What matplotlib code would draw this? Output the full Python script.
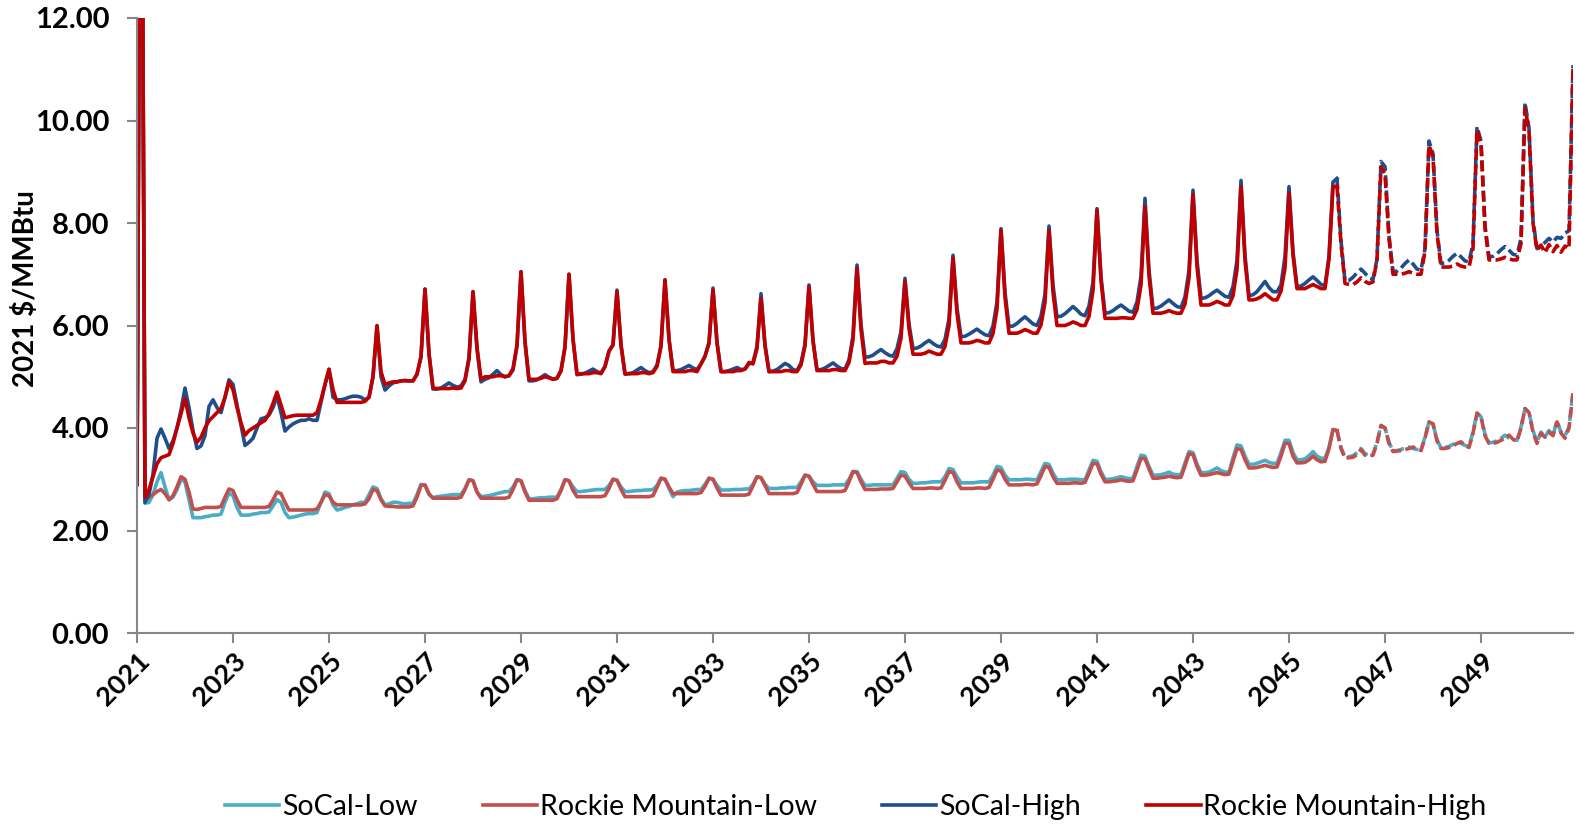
import numpy as np
import matplotlib
matplotlib.use("Agg")
import matplotlib.pyplot as plt

# monthly prices, 2021 $/MMBtu, one row per year (Jan..Dec), 2021-2050
socal_low = [
    [2.90, 20.0, 2.53, 2.55, 2.70, 2.95, 3.13, 2.85, 2.60, 2.65, 2.80, 3.00],
    [2.95, 2.60, 2.25, 2.25, 2.25, 2.27, 2.28, 2.30, 2.30, 2.32, 2.55, 2.73],
    [2.68, 2.45, 2.30, 2.30, 2.30, 2.32, 2.33, 2.35, 2.35, 2.36, 2.48, 2.60],
    [2.55, 2.35, 2.25, 2.26, 2.28, 2.30, 2.32, 2.33, 2.33, 2.35, 2.55, 2.75],
    [2.72, 2.50, 2.40, 2.42, 2.45, 2.47, 2.50, 2.52, 2.55, 2.55, 2.70, 2.85],
    [2.82, 2.62, 2.50, 2.52, 2.55, 2.55, 2.53, 2.52, 2.53, 2.53, 2.70, 2.90],
    [2.88, 2.70, 2.64, 2.66, 2.67, 2.68, 2.69, 2.70, 2.70, 2.70, 2.82, 2.99],
    [2.97, 2.75, 2.66, 2.67, 2.68, 2.70, 2.72, 2.74, 2.76, 2.76, 2.85, 2.99],
    [2.97, 2.78, 2.62, 2.62, 2.63, 2.64, 2.64, 2.65, 2.65, 2.65, 2.80, 2.99],
    [2.97, 2.85, 2.76, 2.76, 2.77, 2.78, 2.79, 2.80, 2.80, 2.80, 2.88, 3.00],
    [2.98, 2.85, 2.76, 2.76, 2.77, 2.78, 2.78, 2.79, 2.79, 2.80, 2.88, 3.02],
    [3.00, 2.82, 2.66, 2.75, 2.77, 2.78, 2.78, 2.79, 2.80, 2.80, 2.90, 3.02],
    [3.00, 2.88, 2.79, 2.79, 2.79, 2.80, 2.80, 2.80, 2.81, 2.81, 2.90, 3.05],
    [3.03, 2.90, 2.82, 2.82, 2.82, 2.83, 2.83, 2.84, 2.84, 2.84, 2.95, 3.08],
    [3.06, 2.95, 2.88, 2.88, 2.88, 2.88, 2.89, 2.89, 2.89, 2.89, 3.00, 3.15],
    [3.15, 3.00, 2.88, 2.88, 2.89, 2.89, 2.89, 2.89, 2.89, 2.89, 3.02, 3.15],
    [3.13, 3.00, 2.92, 2.92, 2.93, 2.93, 2.94, 2.95, 2.95, 2.95, 3.05, 3.21],
    [3.19, 3.05, 2.93, 2.93, 2.93, 2.93, 2.94, 2.95, 2.95, 2.95, 3.08, 3.25],
    [3.23, 3.08, 2.99, 2.99, 2.99, 2.99, 3.00, 3.00, 2.99, 2.99, 3.15, 3.31],
    [3.29, 3.12, 2.99, 2.99, 2.99, 3.00, 3.00, 3.00, 2.99, 2.99, 3.18, 3.37],
    [3.35, 3.15, 3.00, 3.00, 3.01, 3.03, 3.05, 3.03, 3.01, 3.02, 3.25, 3.47],
    [3.45, 3.25, 3.08, 3.08, 3.09, 3.11, 3.14, 3.10, 3.09, 3.09, 3.32, 3.54],
    [3.52, 3.30, 3.13, 3.13, 3.14, 3.18, 3.22, 3.17, 3.14, 3.14, 3.42, 3.67],
    [3.65, 3.45, 3.29, 3.29, 3.31, 3.34, 3.37, 3.33, 3.31, 3.31, 3.52, 3.76],
    [3.76, 3.52, 3.38, 3.38, 3.40, 3.46, 3.54, 3.45, 3.41, 3.41, 3.62, 3.97],
    [3.95, 3.62, 3.43, 3.44, 3.46, 3.52, 3.60, 3.50, 3.47, 3.49, 3.72, 4.05],
    [4.00, 3.72, 3.55, 3.56, 3.58, 3.61, 3.63, 3.60, 3.58, 3.58, 3.82, 4.12],
    [4.08, 3.77, 3.61, 3.62, 3.64, 3.68, 3.73, 3.70, 3.66, 3.64, 3.92, 4.29],
    [4.22, 3.88, 3.71, 3.72, 3.75, 3.80, 3.86, 3.80, 3.77, 3.76, 4.02, 4.38],
    [4.30, 3.95, 3.72, 3.92, 3.83, 3.95, 3.86, 4.14, 3.92, 3.85, 4.02, 4.70],
]

rockie_low = [
    [2.90, 20.0, 2.60, 2.65, 2.70, 2.76, 2.80, 2.72, 2.60, 2.68, 2.85, 3.05],
    [3.00, 2.75, 2.42, 2.41, 2.43, 2.45, 2.45, 2.45, 2.45, 2.47, 2.65, 2.81],
    [2.78, 2.60, 2.45, 2.45, 2.45, 2.45, 2.45, 2.45, 2.45, 2.47, 2.60, 2.75],
    [2.72, 2.55, 2.40, 2.40, 2.40, 2.40, 2.40, 2.40, 2.40, 2.42, 2.55, 2.70],
    [2.68, 2.55, 2.50, 2.50, 2.50, 2.50, 2.50, 2.50, 2.50, 2.52, 2.62, 2.80],
    [2.78, 2.60, 2.48, 2.47, 2.47, 2.46, 2.46, 2.46, 2.46, 2.48, 2.65, 2.88],
    [2.89, 2.72, 2.63, 2.63, 2.63, 2.63, 2.63, 2.63, 2.63, 2.65, 2.80, 2.99],
    [2.97, 2.75, 2.63, 2.63, 2.63, 2.63, 2.63, 2.63, 2.63, 2.65, 2.80, 2.99],
    [2.97, 2.75, 2.59, 2.59, 2.59, 2.59, 2.59, 2.59, 2.59, 2.62, 2.78, 2.99],
    [2.97, 2.78, 2.66, 2.66, 2.66, 2.66, 2.66, 2.66, 2.66, 2.68, 2.82, 3.00],
    [2.98, 2.80, 2.66, 2.66, 2.66, 2.66, 2.66, 2.66, 2.66, 2.68, 2.84, 3.02],
    [3.00, 2.85, 2.72, 2.72, 2.72, 2.72, 2.72, 2.72, 2.72, 2.74, 2.86, 3.02],
    [3.00, 2.83, 2.69, 2.69, 2.69, 2.69, 2.69, 2.69, 2.69, 2.71, 2.87, 3.05],
    [3.03, 2.88, 2.72, 2.72, 2.72, 2.72, 2.72, 2.72, 2.72, 2.74, 2.90, 3.08],
    [3.06, 2.90, 2.76, 2.76, 2.76, 2.76, 2.76, 2.76, 2.76, 2.78, 2.95, 3.15],
    [3.13, 2.95, 2.80, 2.80, 2.80, 2.80, 2.81, 2.81, 2.81, 2.82, 2.95, 3.08],
    [3.06, 2.93, 2.82, 2.82, 2.82, 2.82, 2.83, 2.83, 2.82, 2.83, 2.98, 3.15],
    [3.13, 2.95, 2.82, 2.82, 2.82, 2.82, 2.83, 2.83, 2.82, 2.84, 3.00, 3.18],
    [3.16, 3.00, 2.89, 2.89, 2.89, 2.89, 2.90, 2.90, 2.89, 2.91, 3.07, 3.25],
    [3.23, 3.05, 2.92, 2.92, 2.92, 2.92, 2.93, 2.93, 2.92, 2.94, 3.12, 3.31],
    [3.30, 3.10, 2.95, 2.95, 2.96, 2.97, 2.99, 2.97, 2.96, 2.97, 3.18, 3.41],
    [3.40, 3.20, 3.02, 3.02, 3.03, 3.04, 3.06, 3.04, 3.03, 3.04, 3.26, 3.50],
    [3.48, 3.25, 3.08, 3.08, 3.09, 3.11, 3.13, 3.11, 3.09, 3.10, 3.35, 3.60],
    [3.58, 3.38, 3.22, 3.22, 3.23, 3.25, 3.27, 3.25, 3.23, 3.24, 3.45, 3.70],
    [3.70, 3.45, 3.32, 3.32, 3.33, 3.38, 3.45, 3.38, 3.34, 3.35, 3.60, 3.97],
    [3.95, 3.60, 3.41, 3.42, 3.43, 3.48, 3.58, 3.47, 3.45, 3.47, 3.70, 4.05],
    [4.00, 3.70, 3.54, 3.55, 3.56, 3.58, 3.60, 3.63, 3.58, 3.56, 3.80, 4.12],
    [4.08, 3.75, 3.60, 3.60, 3.62, 3.65, 3.70, 3.73, 3.66, 3.62, 3.90, 4.29],
    [4.22, 3.85, 3.70, 3.70, 3.72, 3.76, 3.80, 3.86, 3.78, 3.74, 4.00, 4.38],
    [4.30, 3.92, 3.70, 3.90, 3.82, 3.92, 3.85, 4.12, 3.90, 3.80, 4.00, 4.68],
]

socal_high = [
    [2.90, 20.0, 2.55, 2.70, 3.10, 3.80, 3.98, 3.80, 3.60, 3.75, 4.00, 4.35],
    [4.78, 4.40, 3.95, 3.60, 3.65, 3.85, 4.42, 4.55, 4.40, 4.30, 4.60, 4.94],
    [4.85, 4.45, 4.05, 3.66, 3.72, 3.80, 4.00, 4.18, 4.20, 4.25, 4.40, 4.62],
    [4.30, 3.94, 4.02, 4.08, 4.12, 4.15, 4.15, 4.18, 4.15, 4.15, 4.50, 4.85],
    [5.14, 4.60, 4.55, 4.55, 4.57, 4.60, 4.62, 4.62, 4.60, 4.55, 4.60, 5.00],
    [5.99, 5.00, 4.74, 4.82, 4.88, 4.90, 4.92, 4.93, 4.92, 4.92, 5.05, 5.38],
    [6.71, 5.45, 4.76, 4.76, 4.78, 4.83, 4.88, 4.83, 4.80, 4.82, 4.95, 5.38],
    [6.66, 5.53, 4.90, 4.95, 4.98, 5.05, 5.12, 5.04, 5.00, 5.02, 5.13, 5.60],
    [7.05, 5.67, 4.92, 4.92, 4.94, 4.99, 5.04, 4.99, 4.95, 4.97, 5.13, 5.59],
    [7.00, 5.73, 5.04, 5.05, 5.07, 5.11, 5.15, 5.10, 5.07, 5.20, 5.50, 5.62],
    [6.69, 5.62, 5.05, 5.06, 5.08, 5.13, 5.18, 5.12, 5.08, 5.10, 5.23, 5.60],
    [6.89, 5.74, 5.12, 5.12, 5.14, 5.18, 5.22, 5.17, 5.14, 5.25, 5.40, 5.67],
    [6.73, 5.67, 5.10, 5.10, 5.12, 5.15, 5.18, 5.14, 5.15, 5.25, 5.28, 5.60],
    [6.62, 5.63, 5.10, 5.11, 5.14, 5.20, 5.26, 5.22, 5.14, 5.12, 5.27, 5.64],
    [6.79, 5.71, 5.13, 5.14, 5.17, 5.22, 5.27, 5.21, 5.16, 5.15, 5.33, 5.80],
    [7.18, 6.02, 5.38, 5.39, 5.42, 5.48, 5.53, 5.47, 5.42, 5.40, 5.55, 5.88],
    [6.92, 6.03, 5.55, 5.56, 5.60, 5.66, 5.71, 5.65, 5.60, 5.58, 5.73, 6.13],
    [7.37, 6.34, 5.78, 5.79, 5.83, 5.88, 5.93, 5.87, 5.82, 5.80, 5.99, 6.46],
    [7.89, 6.65, 5.98, 5.99, 6.04, 6.11, 6.17, 6.10, 6.03, 6.00, 6.18, 6.61],
    [7.94, 6.79, 6.17, 6.18, 6.23, 6.30, 6.37, 6.30, 6.22, 6.19, 6.38, 6.85],
    [8.28, 6.95, 6.24, 6.25, 6.29, 6.35, 6.40, 6.34, 6.28, 6.26, 6.46, 6.96],
    [8.48, 7.08, 6.33, 6.34, 6.38, 6.44, 6.50, 6.43, 6.37, 6.35, 6.56, 7.07],
    [8.64, 7.27, 6.53, 6.54, 6.58, 6.64, 6.69, 6.63, 6.57, 6.55, 6.76, 7.27],
    [8.83, 7.37, 6.58, 6.60, 6.66, 6.76, 6.86, 6.74, 6.66, 6.66, 6.79, 7.35],
    [8.71, 7.44, 6.76, 6.77, 6.82, 6.89, 6.95, 6.88, 6.80, 6.78, 7.35, 8.80],
    [8.87, 7.65, 6.87, 6.88, 6.94, 7.03, 7.10, 7.02, 6.93, 6.90, 7.30, 9.20],
    [9.10, 7.75, 7.05, 7.06, 7.12, 7.21, 7.28, 7.20, 7.10, 7.08, 7.50, 9.60],
    [9.35, 7.85, 7.21, 7.22, 7.27, 7.35, 7.41, 7.34, 7.26, 7.24, 7.60, 9.88],
    [9.60, 7.95, 7.34, 7.35, 7.40, 7.48, 7.54, 7.47, 7.39, 7.37, 7.70, 10.35],
    [9.85, 8.05, 7.50, 7.55, 7.62, 7.70, 7.63, 7.72, 7.70, 7.80, 7.85, 11.08],
]

rockie_high = [
    [2.90, 20.0, 2.65, 2.80, 3.05, 3.30, 3.42, 3.45, 3.48, 3.70, 4.00, 4.28],
    [4.58, 4.20, 3.90, 3.72, 3.82, 4.00, 4.14, 4.22, 4.30, 4.38, 4.60, 4.90],
    [4.75, 4.40, 4.10, 3.86, 3.95, 4.00, 4.05, 4.10, 4.15, 4.28, 4.48, 4.70],
    [4.45, 4.20, 4.22, 4.24, 4.25, 4.25, 4.25, 4.25, 4.25, 4.30, 4.55, 4.85],
    [5.15, 4.75, 4.50, 4.50, 4.50, 4.50, 4.50, 4.50, 4.50, 4.52, 4.60, 5.00],
    [6.00, 5.10, 4.85, 4.88, 4.90, 4.90, 4.92, 4.92, 4.92, 4.92, 5.05, 5.40],
    [6.71, 5.45, 4.78, 4.77, 4.77, 4.77, 4.77, 4.78, 4.77, 4.78, 4.92, 5.34],
    [6.66, 5.58, 4.95, 5.00, 5.00, 5.00, 5.02, 5.02, 5.00, 5.02, 5.16, 5.62],
    [7.05, 5.69, 4.95, 4.95, 4.95, 4.97, 5.00, 4.98, 4.95, 4.97, 5.11, 5.57],
    [7.00, 5.74, 5.05, 5.06, 5.06, 5.06, 5.08, 5.08, 5.06, 5.20, 5.50, 5.62],
    [6.66, 5.62, 5.06, 5.06, 5.06, 5.06, 5.08, 5.08, 5.06, 5.08, 5.20, 5.60],
    [6.89, 5.73, 5.10, 5.10, 5.10, 5.10, 5.12, 5.12, 5.10, 5.25, 5.40, 5.65],
    [6.69, 5.66, 5.10, 5.10, 5.10, 5.10, 5.12, 5.12, 5.15, 5.28, 5.25, 5.55],
    [6.53, 5.60, 5.10, 5.10, 5.10, 5.10, 5.12, 5.12, 5.10, 5.10, 5.23, 5.60],
    [6.76, 5.70, 5.12, 5.12, 5.12, 5.12, 5.14, 5.14, 5.12, 5.12, 5.28, 5.72],
    [7.12, 5.92, 5.26, 5.27, 5.27, 5.27, 5.30, 5.30, 5.27, 5.27, 5.40, 5.75],
    [6.86, 5.94, 5.44, 5.44, 5.44, 5.46, 5.50, 5.47, 5.44, 5.44, 5.59, 6.00],
    [7.31, 6.24, 5.66, 5.66, 5.66, 5.68, 5.71, 5.69, 5.66, 5.66, 5.84, 6.32],
    [7.86, 6.55, 5.85, 5.85, 5.85, 5.88, 5.92, 5.89, 5.85, 5.85, 6.01, 6.45],
    [7.86, 6.65, 6.00, 6.00, 6.00, 6.03, 6.07, 6.04, 6.00, 6.00, 6.18, 6.68],
    [8.25, 6.88, 6.14, 6.14, 6.14, 6.14, 6.15, 6.15, 6.14, 6.14, 6.31, 6.79],
    [8.32, 6.97, 6.24, 6.24, 6.24, 6.26, 6.29, 6.26, 6.24, 6.24, 6.42, 6.93],
    [8.55, 7.15, 6.40, 6.40, 6.40, 6.43, 6.47, 6.44, 6.40, 6.40, 6.58, 7.09],
    [8.71, 7.27, 6.50, 6.50, 6.52, 6.56, 6.62, 6.56, 6.50, 6.50, 6.67, 7.12],
    [8.58, 7.37, 6.72, 6.72, 6.72, 6.76, 6.80, 6.76, 6.72, 6.72, 7.30, 8.70],
    [8.72, 7.60, 6.82, 6.80, 6.80, 6.85, 6.93, 6.86, 6.82, 6.85, 7.28, 9.10],
    [8.95, 7.70, 7.00, 7.00, 7.00, 7.02, 7.05, 7.02, 7.00, 7.00, 7.45, 9.52],
    [9.30, 7.80, 7.14, 7.14, 7.14, 7.16, 7.20, 7.16, 7.14, 7.14, 7.50, 9.81],
    [9.55, 7.90, 7.28, 7.28, 7.28, 7.30, 7.33, 7.30, 7.28, 7.28, 7.60, 10.24],
    [9.81, 8.00, 7.47, 7.57, 7.42, 7.58, 7.44, 7.56, 7.43, 7.55, 7.50, 11.05],
]

series_names = ["SoCal-Low", "Rockie Mountain-Low", "SoCal-High", "Rockie Mountain-High"]
series_colors = ["#4BACC6", "#C0504D", "#1F4E8C", "#C00000"]
tick_years = list(range(2021, 2050, 2))
forecast_start = 300   # Jan 2046: dashed from here on

plt.rcParams["font.family"] = ["Lato", "DejaVu Sans"]

fig = plt.figure(figsize=(15.76, 8.27), dpi=100)
ax = fig.add_axes([137 / 1576, 1 - 633 / 827, (1573 - 137) / 1576, (633 - 18) / 827])

handles = []
for rows, name, col in zip([socal_low, rockie_low, socal_high, rockie_high],
                           series_names, series_colors):
    vals = np.array(rows).ravel()
    x = np.arange(len(vals))
    h, = ax.plot(x[:forecast_start + 1], vals[:forecast_start + 1], color=col, lw=2.6,
                 solid_joinstyle="round", label=name)
    ax.plot(x[forecast_start:], vals[forecast_start:], color=col, lw=2.6,
            dashes=(3.0, 1.2), dash_capstyle="butt")
    handles.append(h)

ax.set_xlim(0, 359)
ax.set_ylim(0, 12)
ax.set_yticks(np.arange(0, 13, 2))
ax.set_yticklabels([f"{v:.2f}" for v in np.arange(0, 13, 2)], fontsize=21, fontweight="bold")
ax.set_xticks([(y - 2021) * 12 for y in tick_years])
ax.set_xticklabels([str(y) for y in tick_years], fontsize=19.5, fontweight="bold",
                   rotation=45, ha="right", va="top", rotation_mode="anchor")

for s in ["top", "right"]:
    ax.spines[s].set_visible(False)
for s in ["left", "bottom"]:
    ax.spines[s].set_color("#868686")
    ax.spines[s].set_linewidth(1.5)
ax.tick_params(axis="both", direction="out", length=7, width=1.5, color="#868686")
ax.tick_params(axis="y", pad=13)
ax.tick_params(axis="x", pad=4)

ax.set_ylabel("2021 $/MMBtu", fontsize=20, fontweight="bold")
ax.yaxis.set_label_coords(-0.068, 0.56)

fig.legend(handles=handles, loc="center", bbox_to_anchor=(0.543, 1 - 807 / 827), ncol=4,
           frameon=False, fontsize=20.5, handlelength=1.9, handletextpad=0.1,
           columnspacing=2.3)

fig.savefig("out.png", dpi=100)
